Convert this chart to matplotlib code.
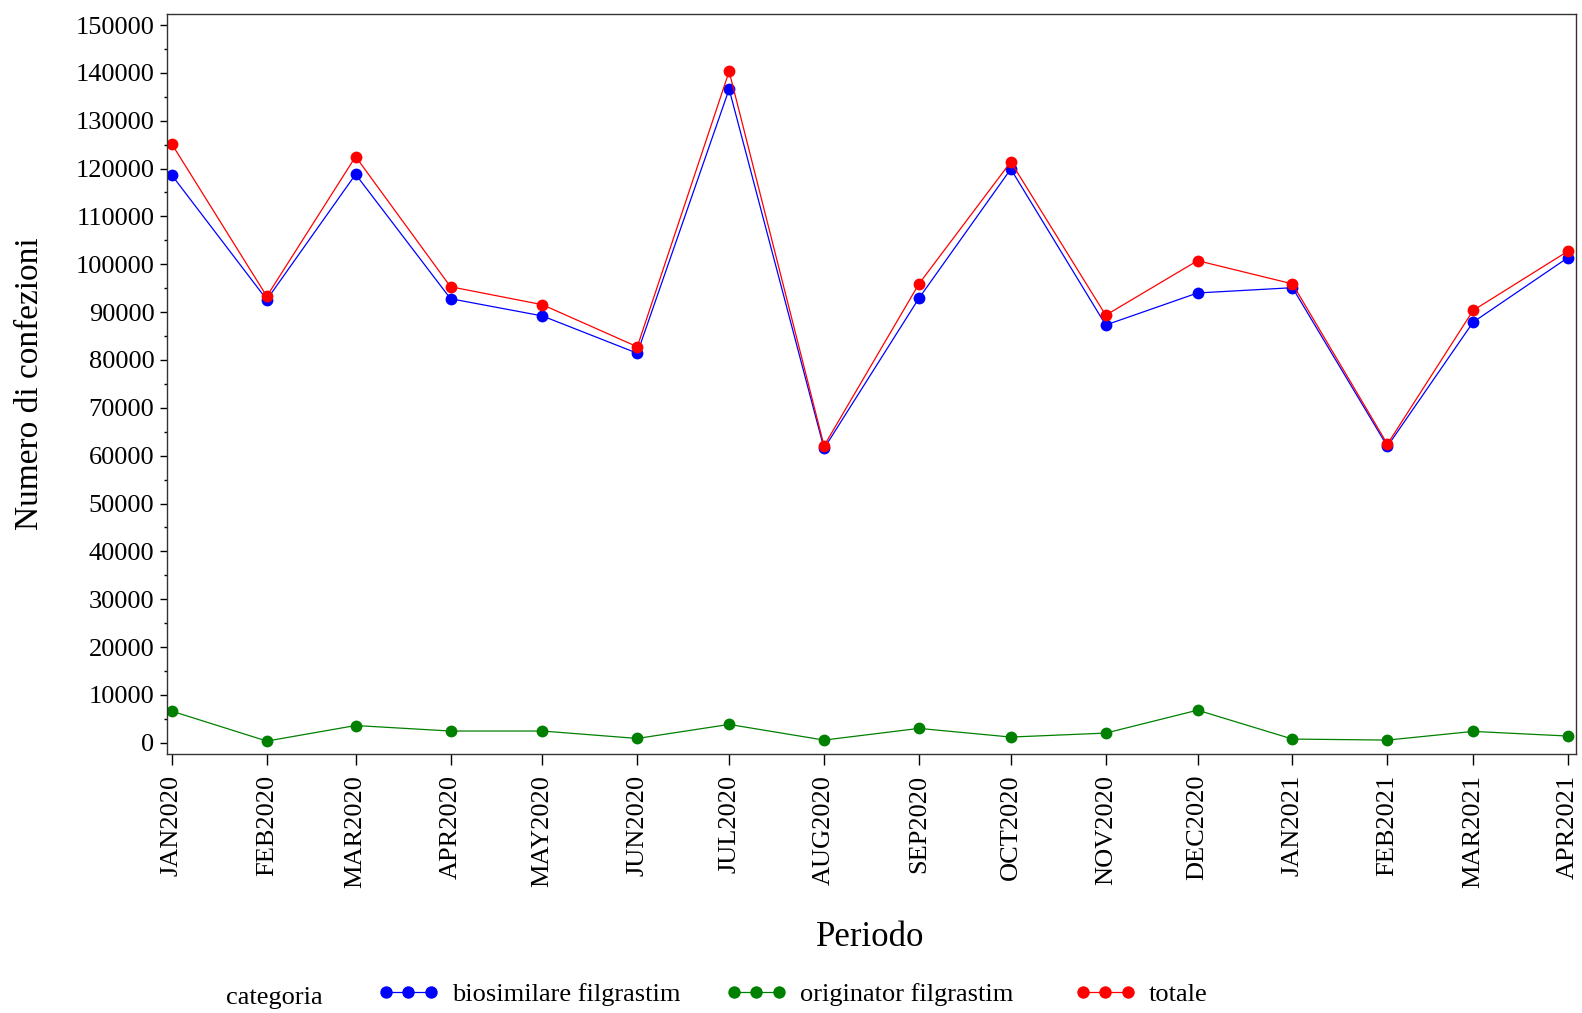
import matplotlib
matplotlib.use("Agg")
import matplotlib.pyplot as plt
from matplotlib.ticker import MultipleLocator
import datetime as dt

periods = ["JAN2020", "FEB2020", "MAR2020", "APR2020", "MAY2020", "JUN2020", "JUL2020", "AUG2020",
           "SEP2020", "OCT2020", "NOV2020", "DEC2020", "JAN2021", "FEB2021", "MAR2021", "APR2021"]
biosimilare = [118600, 92600, 118800, 92800, 89200, 81400, 136600, 61500,
               92900, 119900, 87300, 94000, 95100, 61950, 87900, 101400]
originator = [6600, 350, 3600, 2450, 2450, 900, 3830, 560,
              3000, 1190, 2020, 6810, 770, 560, 2370, 1400]
totale = [125100, 93300, 122500, 95300, 91550, 82750, 140300, 62050,
          95900, 121400, 89350, 100750, 95900, 62400, 90350, 102750]

series_names = ["biosimilare filgrastim", "originator filgrastim", "totale"]
series_colors = ["#0000ff", "#008000", "#ff0000"]

dates = [dt.datetime.strptime(p[:3].title() + p[3:], "%b%Y") for p in periods]

plt.rcParams['font.family'] = ['Liberation Serif', 'DejaVu Serif']

W, H = 1582, 1013
fig = plt.figure(figsize=(W / 100, H / 100), dpi=100)
ax = fig.add_axes([167 / W, 1 - 754 / H, (1576 - 167) / W, (754 - 14) / H])

lines = []
for vals, name, col in zip([biosimilare, originator, totale], series_names, series_colors):
    ln, = ax.plot(dates, vals, color=col, lw=0.9, marker='o', markersize=8.5,
                  markeredgewidth=0, label=name)
    lines.append(ln)

ax.set_xlim(dates[0] - dt.timedelta(days=1.6), dates[-1] + dt.timedelta(days=2.6))
ax.set_ylim(-2350, 152300)
ax.set_xticks(dates)
ax.set_xticklabels(periods, rotation=90, fontsize=19)
ax.yaxis.set_major_locator(MultipleLocator(10000))
ax.yaxis.set_minor_locator(MultipleLocator(5000))
ax.tick_params(axis='y', labelsize=19, length=5, width=1, direction='out', pad=4)
ax.tick_params(axis='y', which='minor', length=2.5, width=1)
ax.tick_params(axis='x', length=8, width=1, direction='out', pad=7)
for s in ax.spines.values():
    s.set_linewidth(1)
    s.set_color('#333333')

fig.text(30 / W, 1 - 384 / H, "Numero di confezioni", fontsize=24, rotation=90,
         ha='center', va='center')
fig.text(870 / W, 1 - 937 / H, "Periodo", fontsize=25, ha='center', va='center')
fig.text(274 / W, 1 - 998 / H, "categoria", fontsize=19, ha='center', va='center')

handle_x = [378, 726, 1075]
for ln, name, hx in zip(lines, series_names, handle_x):
    fig.legend([ln], [name], loc='center left', bbox_to_anchor=(hx / W, 1 - 994 / H),
               frameon=False, fontsize=19, numpoints=3, handlelength=2.3,
               handletextpad=0.5, borderaxespad=0, borderpad=0, markerscale=1.05)

fig.savefig("out.png", dpi=100)
